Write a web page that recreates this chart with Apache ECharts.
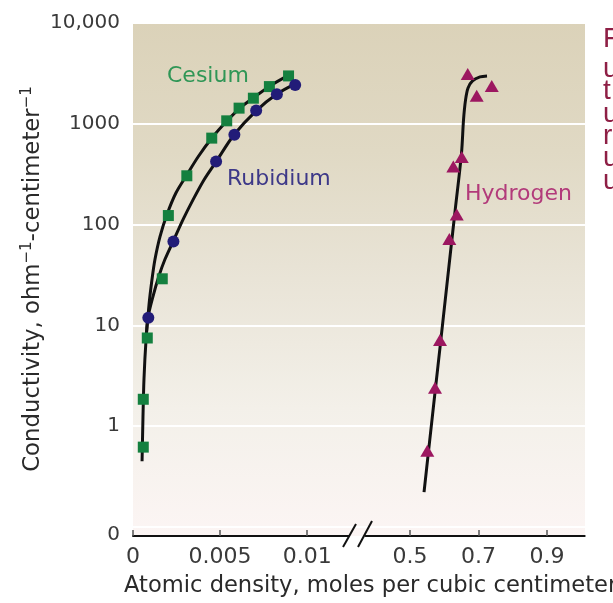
<!DOCTYPE html>
<html>
<head>
<meta charset="utf-8">
<script src="https://cdn.jsdelivr.net/npm/echarts@6/dist/echarts.min.js"></script>
<style>
  html, body { margin: 0; padding: 0; background: #ffffff; }
  #chart { width: 613px; height: 603px; }
</style>
</head>
<body>
<div id="chart"></div>
<script>
// Measured conductivity (ohm^-1 cm^-1) against atomic density (mol/cm^3)
const cesiumDensity      = [0.00059, 0.00059, 0.00082, 0.00168, 0.00203, 0.00309, 0.00452, 0.00538, 0.00609, 0.00691, 0.00783, 0.00893];
const cesiumConductivity = [0.62, 1.85, 7.5, 29, 123, 305, 721, 1070, 1430, 1795, 2340, 2985];

const rubidiumDensity      = [0.00088, 0.00232, 0.00477, 0.00582, 0.00707, 0.00826, 0.00931];
const rubidiumConductivity = [11.9, 68, 423, 778, 1355, 1968, 2432];

const hydrogenDensity      = [0.5505, 0.573, 0.5876, 0.6148, 0.6364, 0.6264, 0.651, 0.6947, 0.6685, 0.7386];
const hydrogenConductivity = [0.57, 2.41, 7.15, 72, 126, 378, 468, 1893, 3126, 2377];

// Fitted curves drawn through each data set
const cesiumFitDensity      = [0.00052, 0.00057, 0.00063, 0.00075, 0.00092, 0.00109, 0.00126, 0.00155, 0.00195, 0.00247, 0.0031, 0.00374, 0.00454, 0.0054, 0.00615, 0.0069, 0.00787, 0.00897];
const cesiumFitConductivity = [0.45, 1.17, 2.92, 7.27, 16.1, 28.5, 45, 76, 126, 207, 313, 471, 727, 1070, 1440, 1808, 2377, 3055];

const rubidiumFitDensity      = [0.00075, 0.00086, 0.00113, 0.00146, 0.00183, 0.0023, 0.00287, 0.00345, 0.00408, 0.00477, 0.0058, 0.00707, 0.00828, 0.00931];
const rubidiumFitConductivity = [7.27, 12, 18.9, 29.9, 45, 67.9, 112, 177, 279, 421, 778, 1345, 1982, 2489];

const hydrogenFitDensity      = [0.5409, 0.5546, 0.573, 0.5902, 0.6174, 0.632, 0.6504, 0.6562, 0.6621, 0.6694, 0.6825, 0.7044, 0.7248];
const hydrogenFitConductivity = [0.222, 0.59, 2.17, 7.27, 50.5, 141, 516, 1096, 1728, 2270, 2667, 2918, 2985];

// Axis ticks and their labels
const yTickValues = [0.1, 1, 10, 100, 1000, 10000];
const yTickLabels = ['0', '1', '10', '100', '1000', '10,000'];
const xLowTicks   = [0, 0.005, 0.01];
const xLowLabels  = ['0', '0.005', '0.01'];
const xHighTicks  = [0.5, 0.7, 0.9];
const xHighLabels = ['0.5', '0.7', '0.9'];

// Titles and text beside the chart
const seriesNames = ['Cesium', 'Rubidium', 'Hydrogen'];
const yTitle = 'Conductivity, ohm{sup|−1}-centimeter{sup|−1}';
const xTitle = 'Atomic density, moles per cubic centimeter';
const sideText = ['F', 'u', 't', 'u', 'r', 'u', 'u'];

const FONT = 'DejaVu Sans';
const zip = (xs, ys) => xs.map((x, i) => [x, ys[i]]);
const labelFor = (ticks, labels) => (v) => {
  const i = ticks.findIndex(t => Math.abs(t - v) < 1e-9);
  return i < 0 ? '' : labels[i];
};

const chart = echarts.init(document.getElementById('chart'), null, { renderer: 'canvas' });

const logAxis = {
  type: 'log', logBase: 10, min: 0.1, max: 10000
};

const fitLine = (name, xIdx, xs, ys) => ({
  type: 'line', name: name, xAxisIndex: xIdx, yAxisIndex: xIdx,
  data: zip(xs, ys),
  showSymbol: false, smooth: 0.3,
  lineStyle: { color: '#111', width: 3 }, z: 3, silent: true
});

const option = {
  animation: false,
  backgroundColor: '#ffffff',
  grid: [
    { left: 133, top: 23, width: 452, height: 504 },    // frame: gridlines, y labels
    { left: 133, top: 23, width: 216, height: 504 },    // low-density part
    { left: 365.5, top: 23, width: 219.2, height: 504 } // high-density part
  ],
  xAxis: [
    { gridIndex: 0, type: 'value', min: 0, max: 1, show: false },
    {
      gridIndex: 1, type: 'value', min: 0, max: 0.0124, offset: 9,
      axisLine: { show: true, lineStyle: { color: '#111', width: 2 } },
      axisTick: { show: true, inside: true, length: 6, customValues: xLowTicks, lineStyle: { color: '#555', width: 1.5 } },
      axisLabel: {
        customValues: xLowTicks, formatter: labelFor(xLowTicks, xLowLabels),
        fontFamily: FONT, fontSize: 22, color: '#3a3a3a', margin: 10
      },
      splitLine: { show: false }
    },
    {
      gridIndex: 2, type: 'value', min: 0.37, max: 1.01, offset: 9,
      axisLine: { show: true, lineStyle: { color: '#111', width: 2 } },
      axisTick: { show: true, inside: true, length: 6, customValues: xHighTicks, lineStyle: { color: '#555', width: 1.5 } },
      axisLabel: {
        customValues: xHighTicks, formatter: labelFor(xHighTicks, xHighLabels),
        fontFamily: FONT, fontSize: 22, color: '#3a3a3a', margin: 10
      },
      splitLine: { show: false }
    }
  ],
  yAxis: [
    Object.assign({}, logAxis, {
      gridIndex: 0,
      axisLine: { show: false },
      axisTick: { show: false },
      splitLine: { show: true, lineStyle: { color: '#ffffff', width: 2 } },
      axisLabel: {
        fontFamily: FONT, fontSize: 20, color: '#3a3a3a', margin: 13,
        formatter: (v) => {
          const i = yTickValues.findIndex(t => Math.abs(Math.log10(t) - Math.log10(v)) < 1e-6);
          if (i < 0) return '';
          return i === 0 ? '{low|' + yTickLabels[i] + '}' : yTickLabels[i];
        },
        rich: { low: { fontFamily: FONT, fontSize: 20, color: '#3a3a3a', padding: [16, 0, 0, 0] } }
      }
    }),
    Object.assign({}, logAxis, { gridIndex: 1, show: false, splitLine: { show: false } }),
    Object.assign({}, logAxis, { gridIndex: 2, show: false, splitLine: { show: false } })
  ],
  series: [
    fitLine('Cesium fit', 1, cesiumFitDensity, cesiumFitConductivity),
    fitLine('Rubidium fit', 1, rubidiumFitDensity, rubidiumFitConductivity),
    fitLine('Hydrogen fit', 2, hydrogenFitDensity, hydrogenFitConductivity),
    {
      type: 'scatter', name: seriesNames[0], xAxisIndex: 1, yAxisIndex: 1,
      data: zip(cesiumDensity, cesiumConductivity),
      symbol: 'rect', symbolSize: 11,
      itemStyle: { color: '#14803f', opacity: 1 }, z: 5
    },
    {
      type: 'scatter', name: seriesNames[1], xAxisIndex: 1, yAxisIndex: 1,
      data: zip(rubidiumDensity, rubidiumConductivity),
      symbol: 'circle', symbolSize: 12,
      itemStyle: { color: '#221c78', opacity: 1 }, z: 5
    },
    {
      type: 'scatter', name: seriesNames[2], xAxisIndex: 2, yAxisIndex: 2,
      data: zip(hydrogenDensity, hydrogenConductivity),
      symbol: 'triangle', symbolSize: [14, 12],
      itemStyle: { color: '#9c1760', opacity: 1 }, z: 5
    }
  ],
  graphic: [
    {
      type: 'rect', z: -10, silent: true,
      shape: { x: 133, y: 23, width: 452, height: 513 },
      style: {
        fill: new echarts.graphic.LinearGradient(0, 0, 0, 1, [
          { offset: 0, color: '#dbd2b9' },
          { offset: 0.25, color: '#e0d9c4' },
          { offset: 0.5, color: '#e9e4d7' },
          { offset: 0.75, color: '#f3f0e9' },
          { offset: 1, color: '#fcf5f4' }
        ])
      }
    },
    // axis break marks
    { type: 'line', z: 20, shape: { x1: 343, y1: 547, x2: 356, y2: 524 }, style: { stroke: '#111', lineWidth: 2 } },
    { type: 'line', z: 20, shape: { x1: 358, y1: 547, x2: 372, y2: 521 }, style: { stroke: '#111', lineWidth: 2 } },
    // series names
    { type: 'text', z: 20, style: { text: seriesNames[0], x: 167, y: 76, verticalAlign: 'middle', fontFamily: FONT, fontSize: 22, fill: '#2f9656' } },
    { type: 'text', z: 20, style: { text: seriesNames[1], x: 227, y: 179, verticalAlign: 'middle', fontFamily: FONT, fontSize: 22, fill: '#3d3888' } },
    { type: 'text', z: 20, style: { text: seriesNames[2], x: 465, y: 194, verticalAlign: 'middle', fontFamily: FONT, fontSize: 22, fill: '#b23a7a' } },
    // axis titles
    {
      type: 'text', z: 20, x: 33, y: 279, rotation: Math.PI / 2,
      style: {
        text: yTitle, x: 0, y: 0, align: 'center', verticalAlign: 'middle',
        fontFamily: FONT, fontSize: 22.8, fill: '#2a2a2a', lineHeight: 26,
        rich: { sup: { fontFamily: FONT, fontSize: 15, fill: '#2a2a2a', verticalAlign: 'top', lineHeight: 26 } }
      }
    },
    { type: 'text', z: 20, style: { text: xTitle, x: 124, y: 586, verticalAlign: 'middle', fontFamily: FONT, fontSize: 22.6, fill: '#2a2a2a' } }
  ].concat(sideText.map((t, i) => ({
    type: 'text', z: 20,
    style: {
      text: t, x: 603, y: i === 0 ? 39 : 69 + (i - 1) * 22.4,
      verticalAlign: 'middle', fontFamily: 'Liberation Sans', fontSize: 28, fill: '#8e1f45'
    }
  })))
};

chart.setOption(option);
</script>
</body>
</html>
